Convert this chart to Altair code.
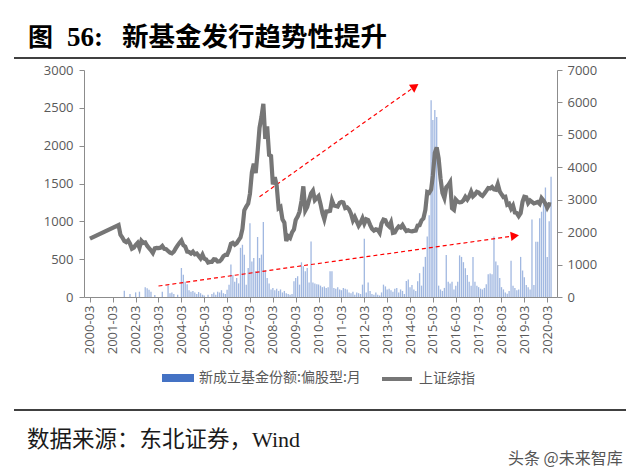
import altair as alt
import pandas as pd

# ---------------- data ----------------
x_tick_labels = ["2000-03", "2001-03", "2002-03", "2003-03", "2004-03", "2005-03", "2006-03",
                 "2007-03", "2008-03", "2009-03", "2010-03", "2011-03", "2012-03", "2013-03",
                 "2014-03", "2015-03", "2016-03", "2017-03", "2018-03", "2019-03", "2020-03"]
y_left_ticks = [0, 500, 1000, 1500, 2000, 2500, 3000]
y_right_ticks = [0, 1000, 2000, 3000, 4000, 5000, 6000, 7000]

bar_name = "新成立基金份额:偏股型:月"
line_name = "上证综指"

# new equity-fund shares, monthly (2000-03 .. 2020-05)
fund_2000 = [0, 0, 0, 0, 0, 0, 0, 0, 0, 0]                       # Mar-Dec
fund_2001 = [0, 0, 0, 0, 0, 0, 0, 0, 83, 0, 0, 39]
fund_2002 = [0, 0, 61, 0, 70, 0, 0, 128, 114, 97, 70, 0]
fund_2003 = [26, 0, 0, 0, 70, 0, 0, 154, 50, 60, 40, 0]
fund_2004 = [30, 0, 383, 295, 200, 170, 90, 70, 80, 60, 40, 66]
fund_2005 = [50, 30, 20, 0, 30, 0, 40, 60, 30, 70, 60, 90]
fund_2006 = [50, 40, 97, 163, 430, 290, 200, 250, 180, 650, 690, 560]
fund_2007 = [163, 383, 975, 470, 515, 340, 793, 515, 560, 990, 350, 250]
fund_2008 = [180, 100, 120, 90, 110, 80, 100, 60, 80, 50, 40, 30]
fund_2009 = [40, 207, 250, 273, 163, 458, 405, 340, 383, 190, 735, 190]
fund_2010 = [180, 170, 165, 150, 130, 140, 120, 130, 340, 340, 120, 110]
fund_2011 = [130, 100, 90, 120, 110, 100, 60, 50, 70, 30, 60, 50]
fund_2012 = [40, 163, 770, 60, 190, 80, 40, 30, 60, 30, 20, 60]
fund_2013 = [163, 140, 100, 110, 90, 70, 110, 120, 60, 100, 80, 40]
fund_2014 = [210, 230, 130, 160, 100, 80, 207, 315, 150, 400, 530, 800]
fund_2015 = [1080, 2600, 2340, 2470, 2380, 150, 100, 80, 120, 554, 200, 180]
fund_2016 = [200, 100, 150, 200, 550, 530, 460, 380, 290, 200, 150, 530]
fund_2017 = [200, 150, 130, 110, 100, 120, 170, 300, 310, 300, 800, 470]
fund_2018 = [420, 250, 130, 100, 60, 44, 80, 480, 150, 120, 90, 100]
fund_2019 = [530, 350, 260, 160, 130, 100, 1025, 160, 730, 730, 1040, 1127]
fund_2020 = [1254, 1447, 530, 1000, 1590]                         # Jan-May

# Shanghai Composite, month-end close
sse_2000 = [1800, None, None, None, None, None, None, None, None, None]
sse_2001 = [None, None, None, None, None, 2218, 1920, 1834, 1724, 1690, 1747, 1646]
sse_2002 = [1491, 1525, 1603, 1668, 1516, 1733, 1670, 1683, 1582, 1507, 1443, 1358]
sse_2003 = [1500, 1512, 1510, 1521, 1576, 1486, 1477, 1421, 1367, 1348, 1397, 1497]
sse_2004 = [1591, 1675, 1742, 1596, 1556, 1399, 1386, 1342, 1397, 1321, 1341, 1267]
sse_2005 = [1192, 1306, 1181, 1159, 1061, 1081, 1083, 1163, 1156, 1093, 1099, 1161]
sse_2006 = [1258, 1299, 1298, 1440, 1641, 1672, 1613, 1659, 1752, 1838, 2099, 2675]
sse_2007 = [2786, 2881, 3184, 3841, 4110, 3821, 4471, 5219, 5552, 5955, 4872, 5262]
sse_2008 = [4383, 4349, 3473, 3693, 3433, 2736, 2776, 2397, 2294, 1729, 1871, 1821]
sse_2009 = [1991, 2083, 2373, 2478, 2633, 2959, 3412, 2668, 2779, 2996, 3195, 3277]
sse_2010 = [2989, 3052, 3109, 2871, 2592, 2398, 2638, 2639, 2656, 2979, 2820, 2808]
sse_2011 = [2791, 2905, 2928, 2912, 2743, 2762, 2702, 2567, 2359, 2468, 2333, 2199]
sse_2012 = [2293, 2428, 2263, 2396, 2372, 2225, 2104, 2048, 2086, 2069, 1980, 2269]
sse_2013 = [2385, 2366, 2237, 2178, 2301, 1979, 1994, 2098, 2175, 2142, 2221, 2116]
sse_2014 = [2033, 2056, 2033, 2026, 2039, 2048, 2202, 2217, 2364, 2420, 2683, 3235]
sse_2015 = [3210, 3310, 3748, 4442, 4612, 4277, 3664, 3206, 3053, 3383, 3445, 3539]
sse_2016 = [2738, 2688, 3004, 2938, 2917, 2930, 2979, 3085, 3005, 3100, 3250, 3104]
sse_2017 = [3159, 3242, 3223, 3155, 3117, 3192, 3273, 3361, 3349, 3393, 3317, 3307]
sse_2018 = [3481, 3259, 3169, 3082, 3095, 2847, 2876, 2725, 2821, 2603, 2588, 2494]
sse_2019 = [2585, 2941, 3091, 3078, 2899, 2979, 2933, 2886, 2905, 2929, 2872, 3050]
sse_2020 = [2977, 2880, 2750, 2860, 2852]

# trend arrows (date, left-axis value)
arrow_start_dates = ["2007-08-01", "2003-03-01"]
arrow_start_vals = [1325, 145]
arrow_end_dates = ["2014-05-20", "2018-10-01"]
arrow_end_vals = [2783, 809]
arrow_angles = [56, 82]

# ---------------- tables ----------------
fund = (fund_2000 + fund_2001 + fund_2002 + fund_2003 + fund_2004 + fund_2005 + fund_2006 +
        fund_2007 + fund_2008 + fund_2009 + fund_2010 + fund_2011 + fund_2012 + fund_2013 +
        fund_2014 + fund_2015 + fund_2016 + fund_2017 + fund_2018 + fund_2019 + fund_2020)
sse = (sse_2000 + sse_2001 + sse_2002 + sse_2003 + sse_2004 + sse_2005 + sse_2006 +
       sse_2007 + sse_2008 + sse_2009 + sse_2010 + sse_2011 + sse_2012 + sse_2013 +
       sse_2014 + sse_2015 + sse_2016 + sse_2017 + sse_2018 + sse_2019 + sse_2020)
dates = pd.date_range("2000-03-01", periods=len(fund), freq="MS").strftime("%Y-%m-%d")
df = pd.DataFrame({"date": list(dates), "fund": fund, "sse": sse})
df["bar_s"] = bar_name
df["line_s"] = line_name

arrows = pd.DataFrame({"x0": arrow_start_dates, "y0": arrow_start_vals,
                       "x1": arrow_end_dates, "y1": arrow_end_vals, "ang": arrow_angles})

# ---------------- styling ----------------
AX_FONT = "Open Sans"
CJK = "Noto Sans CJK SC"
GREY_TXT = "#595959"
GREY_AX = "#8c8c8c"

x_scale = alt.Scale(type="utc",
                    domain=[alt.DateTime(year=2000, month=2, date=15, utc=True),
                            alt.DateTime(year=2020, month=5, date=16, utc=True)])
tick_vals = [alt.DateTime(year=int(s[:4]), month=int(s[5:]), date=1, utc=True) for s in x_tick_labels]
x_axis = alt.Axis(values=tick_vals, labelExpr="utcFormat(datum.value, '%Y-%m')", labelAngle=-90,
                  title=None, grid=False, labelFont=AX_FONT, labelFontSize=13,
                  labelColor=GREY_TXT, domainColor=GREY_AX, tickColor=GREY_AX,
                  tickSize=5, labelPadding=3, labelOverlap=False, labelBound=False)

left_scale = alt.Scale(domain=[0, 3000], nice=False)
left_axis = alt.Axis(orient="left", values=y_left_ticks, format="d", title=None, grid=False,
                     labelFont=AX_FONT, labelFontSize=13, labelColor=GREY_TXT,
                     domainColor=GREY_AX, tickColor=GREY_AX, tickSize=5, labelPadding=6)
right_scale = alt.Scale(domain=[0, 7000], nice=False)
right_axis = alt.Axis(orient="right", values=y_right_ticks, format="d", title=None, grid=False,
                      labelFont=AX_FONT, labelFontSize=13, labelColor=GREY_TXT,
                      domainColor=GREY_AX, tickColor=GREY_AX, tickSize=5, labelPadding=5)

base = alt.Chart(df)

bars = base.mark_bar(width=1.3, opacity=0.5).encode(
    x=alt.X("date:T", scale=x_scale, axis=x_axis),
    y=alt.Y("fund:Q", scale=left_scale, axis=left_axis),
    fill=alt.Fill("bar_s:N", scale=alt.Scale(domain=[bar_name], range=["#4472C4"]),
                  legend=alt.Legend(orient="none", legendX=78, legendY=292, title=None,
                                    symbolType="M-1,-0.25L1,-0.25L1,0.25L-1,0.25Z",
                                    symbolSize=1024, symbolOpacity=1, symbolStrokeWidth=0,
                                    labelFont=CJK, labelFontSize=14, labelColor=GREY_TXT,
                                    labelOffset=5, labelLimit=400)),
)

line = base.transform_filter("isValid(datum.sse)").mark_line(strokeWidth=4.2).encode(
    x=alt.X("date:T", scale=x_scale, axis=x_axis),
    y=alt.Y("sse:Q", scale=right_scale, axis=right_axis),
    stroke=alt.Stroke("line_s:N", scale=alt.Scale(domain=[line_name], range=["#767676"]),
                      legend=alt.Legend(orient="none", legendX=296, legendY=292, title=None,
                                        symbolType="stroke", symbolSize=900,
                                        symbolStrokeWidth=4, labelFont=CJK,
                                        labelFontSize=14, labelColor=GREY_TXT,
                                        labelOffset=5, labelLimit=400)),
)

arrow_lines = alt.Chart(arrows).mark_rule(color="#FF0000", strokeWidth=1.2,
                                          strokeDash=[4, 3]).encode(
    x=alt.X("x0:T", scale=x_scale, axis=x_axis),
    y=alt.Y("y0:Q", scale=left_scale, axis=left_axis),
    x2="x1:T", y2="y1:Q",
)
arrow_heads = alt.Chart(arrows).mark_point(shape="triangle-up", filled=True, color="#FF0000",
                                           size=90, opacity=1).encode(
    x=alt.X("x1:T", scale=x_scale, axis=x_axis),
    y=alt.Y("y1:Q", scale=left_scale, axis=left_axis),
    angle=alt.Angle("ang:Q", scale=None),
)


def text_mark(txt, x, y, size, font, color="#000000", weight="normal"):
    return alt.Chart(pd.DataFrame({"t": [txt]})).mark_text(
        align="left", baseline="alphabetic", font=font, fontSize=size,
        fontWeight=weight, color=color).encode(x=alt.value(x), y=alt.value(y), text="t:N")


def hrule(y):
    return alt.Chart(pd.DataFrame({"t": [0]})).mark_rule(color="#000000", strokeWidth=1.6).encode(
        x=alt.value(-70), x2=alt.value(542), y=alt.value(y))


decor = [
    text_mark("图", -56, -24, 25, CJK, weight="bold"),
    text_mark("56:", -17, -24, 27, "Liberation Serif", weight="bold"),
    text_mark("新基金发行趋势性提升", 38, -24, 26.5, CJK, weight="bold"),
    hrule(-12),
    hrule(340),
    text_mark("数据来源：东北证券，", -57, 377, 22.5, CJK, color="#1a1a1a"),
    text_mark("Wind", 168, 377, 22, "Liberation Serif", color="#1a1a1a"),
    text_mark("头条 @未来智库", 424, 394, 16, CJK, color="#555555"),
]

left = alt.layer(bars, arrow_lines, arrow_heads, *decor)
chart = alt.layer(left, line).resolve_scale(y="independent").properties(
    width=473, height=227,
    padding={"left": 84, "top": 70, "right": 83, "bottom": 173},
    autosize=alt.AutoSizeParams(type="none"),
    background="white",
).configure_view(stroke=None)

chart.save("out.html", embed_options={"renderer": "svg", "actions": False})
